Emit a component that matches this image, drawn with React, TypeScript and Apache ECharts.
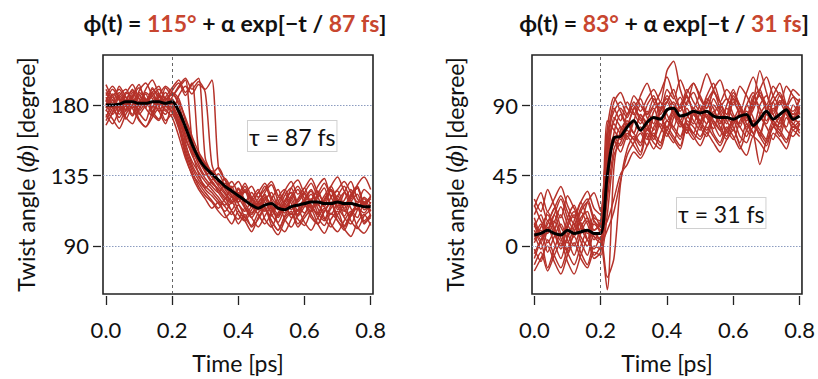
import React, { useEffect, useRef } from "react";
import * as echarts from "echarts";

const TIME = [0, 0.02, 0.04, 0.06, 0.08, 0.1, 0.12, 0.14, 0.16, 0.18, 0.2, 0.22, 0.24, 0.26, 0.28, 0.3, 0.32, 0.34, 0.36, 0.38, 0.4, 0.42, 0.44, 0.46, 0.48, 0.5, 0.52, 0.54, 0.56, 0.58, 0.6, 0.62, 0.64, 0.66, 0.68, 0.7, 0.72, 0.74, 0.76, 0.78, 0.8];

const X_TICKS = [0, 0.2, 0.4, 0.6, 0.8];
const LEFT_Y_TICKS = [90, 135, 180];
const RIGHT_Y_TICKS = [0, 45, 90];
const PUMP_TIME = 0.2;

const LEFT_TITLE = ["ϕ(t) = ", "115°", " + α exp[−t / ", "87 fs", "]"];
const RIGHT_TITLE = ["ϕ(t) = ", "83°", " + α exp[−t / ", "31 fs", "]"];
const LEFT_TAU = "τ = 87 fs";
const RIGHT_TAU = "τ = 31 fs";

// left panel: mean trajectory (black) and individual runs (red)
const LEFT_MEAN = [180, 180, 180.5, 182, 182, 181, 181, 182, 182, 181, 182, 176, 166, 155, 146, 140, 136, 132, 128, 125, 122, 119, 116, 114, 116, 117, 114, 113, 115, 116, 117, 118, 118, 117, 117, 118, 117, 117, 116, 115, 115];
const L01 = [178, 185, 176, 183, 190, 179, 184, 175, 182, 188, 180, 168, 150, 138, 128, 122, 118, 112, 108, 112, 104, 110, 102, 107, 113, 106, 100, 108, 112, 104, 110, 116, 108, 103, 111, 106, 100, 109, 114, 105, 108];
const L02 = [185, 178, 188, 181, 174, 186, 180, 191, 183, 176, 184, 175, 160, 148, 140, 133, 128, 124, 130, 122, 118, 125, 116, 120, 128, 119, 113, 122, 127, 118, 124, 130, 121, 115, 126, 120, 114, 123, 128, 117, 121];
const L03 = [182, 190, 184, 177, 186, 193, 181, 188, 179, 185, 191, 196, 188, 194, 150, 138, 131, 126, 120, 128, 117, 112, 120, 126, 114, 109, 118, 124, 113, 120, 127, 116, 110, 119, 125, 113, 119, 126, 115, 111, 118];
const L04 = [172, 180, 169, 177, 184, 175, 170, 182, 176, 168, 179, 172, 162, 152, 142, 135, 138, 130, 124, 119, 126, 117, 111, 118, 122, 114, 108, 116, 121, 112, 118, 123, 114, 107, 116, 122, 113, 109, 117, 120, 112];
const L05 = [188, 181, 192, 185, 178, 189, 194, 186, 180, 191, 186, 192, 197, 190, 195, 188, 142, 132, 126, 121, 127, 119, 115, 124, 118, 112, 121, 126, 117, 110, 119, 125, 116, 122, 128, 118, 112, 121, 127, 116, 120];
const L06 = [176, 183, 179, 171, 180, 187, 178, 173, 185, 180, 175, 165, 148, 135, 126, 120, 114, 118, 110, 104, 112, 106, 99, 108, 114, 103, 97, 106, 111, 102, 108, 113, 104, 98, 107, 112, 101, 96, 105, 110, 103];
const L07 = [183, 176, 186, 190, 182, 177, 188, 184, 176, 183, 188, 184, 170, 158, 146, 140, 134, 129, 133, 126, 121, 128, 119, 124, 130, 121, 116, 125, 131, 123, 127, 133, 124, 118, 128, 134, 125, 120, 129, 134, 126];
const L08 = [180, 186, 174, 182, 189, 184, 178, 190, 186, 180, 185, 191, 196, 158, 145, 137, 130, 126, 121, 117, 124, 115, 110, 117, 123, 113, 109, 118, 124, 116, 111, 119, 125, 115, 110, 118, 124, 114, 108, 117, 112];
const L09 = [167, 175, 181, 172, 168, 178, 183, 174, 170, 179, 176, 170, 158, 150, 144, 138, 132, 136, 128, 122, 118, 125, 120, 113, 119, 124, 115, 111, 120, 126, 117, 112, 121, 127, 116, 122, 128, 119, 113, 121, 117];
const L10 = [190, 183, 178, 187, 193, 184, 179, 188, 192, 183, 187, 180, 166, 150, 136, 126, 122, 117, 112, 118, 110, 106, 113, 118, 107, 102, 111, 117, 108, 113, 119, 110, 104, 112, 118, 109, 103, 111, 116, 106, 110];
const L11 = [179, 187, 183, 176, 185, 191, 183, 178, 187, 181, 176, 186, 192, 187, 193, 190, 196, 140, 132, 124, 120, 126, 118, 113, 121, 116, 110, 119, 124, 115, 120, 126, 117, 112, 121, 125, 116, 122, 127, 118, 121];
const L12 = [184, 179, 172, 180, 186, 176, 182, 188, 179, 174, 182, 174, 156, 142, 134, 128, 124, 119, 115, 110, 116, 108, 103, 111, 115, 106, 100, 109, 115, 107, 103, 112, 117, 108, 102, 110, 116, 106, 101, 109, 113];
const L13 = [174, 168, 177, 185, 178, 170, 166, 175, 183, 177, 172, 160, 146, 136, 130, 124, 119, 114, 120, 112, 107, 114, 108, 102, 109, 115, 104, 99, 107, 113, 105, 100, 108, 114, 104, 99, 106, 112, 102, 98, 105];
const L14 = [186, 192, 185, 179, 188, 182, 190, 196, 187, 181, 189, 194, 186, 193, 197, 146, 136, 128, 123, 118, 122, 130, 121, 115, 124, 129, 119, 113, 122, 128, 120, 114, 123, 130, 121, 115, 124, 131, 120, 116, 122];
const L15 = [170, 178, 186, 180, 173, 181, 187, 176, 171, 180, 178, 166, 152, 140, 132, 127, 131, 124, 118, 113, 120, 114, 108, 115, 120, 110, 105, 114, 119, 109, 115, 120, 111, 106, 114, 119, 108, 104, 113, 118, 109];
const L16 = [181, 174, 180, 188, 184, 174, 180, 186, 190, 184, 181, 170, 164, 156, 148, 142, 136, 140, 132, 127, 131, 124, 128, 121, 126, 131, 122, 118, 127, 132, 123, 119, 128, 133, 122, 126, 131, 124, 118, 126, 122];
const L17 = [193, 186, 190, 182, 178, 188, 184, 179, 186, 192, 188, 182, 172, 160, 150, 143, 137, 132, 127, 131, 123, 118, 124, 117, 112, 120, 126, 115, 110, 119, 124, 114, 111, 120, 126, 115, 109, 118, 123, 113, 116];
const L18 = [177, 171, 165, 174, 180, 171, 166, 172, 178, 170, 174, 168, 154, 144, 137, 131, 126, 121, 116, 121, 113, 108, 115, 110, 104, 111, 117, 107, 102, 110, 116, 108, 104, 112, 117, 106, 102, 110, 116, 104, 109];

// right panel
const RIGHT_MEAN = [7, 8, 10, 8, 7, 10, 8, 9, 10, 8, 8, 45, 69, 70, 76, 80, 74, 79, 82, 81, 87, 88, 83, 84, 86, 85, 86, 83, 82, 82, 81, 83, 84, 77, 81, 86, 81, 84, 87, 81, 83];
const R01 = [12, 20, 8, 15, 25, 14, 6, 18, 22, 10, 14, 60, 88, 80, 92, 85, 78, 90, 96, 84, 92, 100, 88, 95, 86, 78, 92, 99, 88, 82, 94, 90, 80, 87, 98, 90, 84, 93, 88, 80, 89];
const R02 = [-5, 4, 12, 2, -8, 6, 14, 3, -6, 8, 4, 40, 72, 84, 76, 88, 82, 74, 86, 92, 80, 88, 95, 84, 78, 90, 82, 75, 88, 94, 84, 78, 90, 82, 70, 86, 92, 80, 88, 95, 84];
const R03 = [25, 34, 22, 30, 38, 26, 18, 28, 35, 24, 20, 75, 95, 86, 78, 88, 94, 84, 90, 98, 108, 96, 88, 100, 92, 86, 96, 104, 92, 84, 98, 90, 82, 94, 100, 88, 96, 104, 90, 86, 94];
const R04 = [8, -2, 10, 16, 5, -4, 9, 15, 4, -2, 6, -20, -8, 40, 62, 70, 64, 75, 68, 78, 72, 66, 80, 74, 68, 78, 84, 72, 66, 76, 70, 62, 74, 80, 70, 64, 76, 72, 66, 78, 72];
const R05 = [15, 6, 22, 12, 3, 18, 26, 14, 8, 20, 12, 55, 70, 64, 72, 68, 60, 74, 70, 64, 80, 76, 70, 82, 86, 76, 70, 80, 74, 68, 78, 84, 74, 70, 82, 76, 68, 80, 86, 74, 78];
const R06 = [2, 10, -4, 6, 14, 4, -6, 8, 16, 6, 2, 10, 22, 42, 58, 66, 72, 64, 76, 82, 74, 84, 78, 72, 86, 80, 74, 84, 90, 80, 74, 86, 78, 72, 84, 90, 80, 76, 88, 82, 78];
const R07 = [18, 8, 14, 24, 12, 6, 16, 28, 18, 10, 16, 65, 80, 88, 82, 92, 86, 94, 100, 92, 112, 118, 100, 90, 104, 96, 88, 98, 92, 84, 96, 88, 80, 92, 112, 98, 86, 96, 90, 84, 94];
const R08 = [-12, -4, -16, -6, 2, -10, -18, -6, 4, -8, -4, 35, 68, 60, 70, 64, 58, 72, 66, 62, 74, 68, 62, 76, 70, 64, 72, 66, 60, 68, 74, 64, 58, 70, 66, 60, 72, 68, 62, 74, 70];
const R09 = [30, 22, 36, 26, 18, 32, 24, 16, 28, 34, 22, 70, 86, 92, 84, 96, 90, 84, 94, 88, 96, 90, 86, 98, 104, 94, 88, 100, 106, 94, 90, 102, 96, 88, 100, 108, 96, 90, 102, 96, 92];
const R10 = [6, 14, 2, 10, 20, 8, 0, 12, 18, 6, 4, -28, 50, 74, 80, 72, 84, 78, 70, 82, 76, 86, 80, 72, 84, 78, 72, 86, 80, 74, 68, 80, 86, 78, 72, 84, 78, 70, 82, 76, 80];
const R11 = [10, 2, 16, 8, -2, 12, 20, 6, 0, 14, 10, 80, 74, 68, 78, 72, 84, 76, 70, 86, 92, 84, 76, 88, 80, 74, 86, 78, 70, 82, 76, 66, 78, 72, 52, 68, 80, 74, 86, 78, 74];
const R12 = [-8, 2, -14, -2, 8, -4, -12, 0, 10, -6, 0, 52, 66, 76, 70, 80, 74, 68, 82, 76, 86, 92, 80, 74, 88, 84, 78, 90, 84, 72, 80, 88, 82, 76, 90, 96, 84, 78, 90, 84, 86];
const R13 = [20, 28, 16, 24, 32, 22, 14, 24, 30, 18, 16, 58, 78, 72, 84, 90, 80, 86, 78, 92, 84, 76, 90, 96, 84, 80, 94, 88, 78, 90, 100, 88, 82, 96, 88, 80, 92, 98, 86, 82, 90];
const R14 = [-2, -10, 4, -6, -14, -2, 6, -4, -12, 0, -2, 30, 62, 70, 78, 72, 66, 80, 88, 76, 70, 82, 90, 78, 72, 86, 92, 80, 74, 88, 82, 76, 90, 98, 84, 78, 88, 82, 76, 90, 84];
const R15 = [4, 12, 20, 10, 0, 14, 22, 12, 4, 16, 8, 48, 82, 76, 68, 80, 90, 82, 74, 88, 94, 86, 80, 92, 98, 88, 82, 94, 86, 78, 92, 84, 76, 90, 96, 86, 80, 92, 84, 78, 88];
const R16 = [14, 4, 10, 20, 8, 2, 12, 22, 14, 4, 10, 16, 30, 46, 52, 60, 56, 64, 72, 66, 76, 70, 64, 78, 72, 68, 76, 70, 64, 74, 80, 70, 66, 76, 72, 66, 78, 74, 68, 76, 74];
const R17 = [26, 16, 10, 20, 30, 18, 10, 22, 28, 16, 12, 68, 92, 98, 88, 84, 96, 104, 92, 86, 100, 94, 106, 96, 88, 98, 110, 100, 92, 100, 94, 86, 98, 108, 96, 90, 102, 96, 90, 100, 96];
const R18 = [-16, -8, 0, -10, -18, -6, 2, -8, -14, -4, -6, 20, 58, 66, 74, 68, 76, 70, 62, 72, 80, 74, 68, 80, 76, 70, 78, 84, 76, 70, 82, 76, 70, 80, 74, 68, 76, 82, 74, 70, 78];

const LEFT_RUNS = [L01, L02, L03, L04, L05, L06, L07, L08, L09, L10, L11, L12, L13, L14, L15, L16, L17, L18];
const RIGHT_RUNS = [R01, R02, R03, R04, R05, R06, R07, R08, R09, R10, R11, R12, R13, R14, R15, R16, R17, R18];

const FONT = "Lato, 'Open Sans', sans-serif";
const RED_LINE = "#b5322a";
const RED_TEXT = "#c8462f";
const INK = "#111111";

function pairs(vals: number[]) {
  return TIME.map((t, i) => [t, vals[i]]);
}

function xAxisCfg(gi: number, min: number, max: number) {
  return {
    type: "value",
    gridIndex: gi,
    min,
    max,
    offset: 2,
    axisLine: { show: false, onZero: false },
    axisTick: { show: true, length: 9, customValues: X_TICKS, lineStyle: { color: "#222", width: 1.3 } },
    axisLabel: {
      customValues: X_TICKS,
      formatter: (v: number) => v.toFixed(1),
      fontSize: 22,
      fontFamily: FONT,
      color: INK,
      margin: 22,
    },
    splitLine: { show: false },
    name: "Time [ps]",
    nameLocation: "middle",
    nameGap: 55,
    nameTextStyle: { fontSize: 23, fontFamily: FONT, color: INK },
  };
}

function yAxisCfg(gi: number, min: number, max: number, ticks: number[]) {
  return {
    type: "value",
    gridIndex: gi,
    min,
    max,
    offset: 2,
    axisLine: { show: false, onZero: false },
    axisTick: { show: true, length: 8, customValues: ticks, lineStyle: { color: "#222", width: 1.3 } },
    axisLabel: { customValues: ticks, fontSize: 22, fontFamily: FONT, color: INK, margin: 12 },
    splitLine: { show: false },
    name: "{n|Twist angle (}{i|ϕ}{n|) [degree]}",
    nameLocation: "middle",
    nameGap: 64,
    nameRotate: 90,
    nameTextStyle: {
      rich: {
        n: { fontSize: 23, fontFamily: FONT, color: INK },
        i: { fontSize: 23, fontFamily: "'DejaVu Serif', serif", fontStyle: "italic", color: INK },
      },
    },
  };
}

function guideSeries(gi: number, ticks: number[]) {
  return {
    type: "line",
    xAxisIndex: gi,
    yAxisIndex: gi,
    data: [],
    z: 1,
    silent: true,
    markLine: {
      silent: true,
      symbol: "none",
      animation: false,
      label: { show: false },
      data: [
        ...ticks.map((v) => ({ yAxis: v, lineStyle: { type: [1.5, 1.5], color: "#8c9cc0", width: 1.1 } })),
        { xAxis: PUMP_TIME, lineStyle: { type: [3, 3], color: "#555", width: 0.9 } },
      ],
    },
  };
}

function runSeries(gi: number, runs: number[][]) {
  return runs.map((r) => ({
    type: "line",
    xAxisIndex: gi,
    yAxisIndex: gi,
    data: pairs(r),
    showSymbol: false,
    symbol: "none",
    smooth: 0.25,
    z: 2,
    silent: true,
    lineStyle: { color: RED_LINE, width: 1.5 },
  }));
}

function meanSeries(gi: number, vals: number[]) {
  return {
    type: "line",
    xAxisIndex: gi,
    yAxisIndex: gi,
    data: pairs(vals),
    showSymbol: false,
    symbol: "none",
    smooth: 0.3,
    z: 3,
    silent: true,
    lineStyle: { color: "#000", width: 3 },
  };
}

function titleText(x: number, parts: string[]) {
  const styles = ["b", "r", "b", "r", "b"];
  return {
    type: "text",
    x,
    y: 11,
    style: {
      text: parts.map((p, i) => `{${styles[i]}|${p}}`).join(""),
      align: "center",
      rich: {
        b: { fontSize: 23, fontWeight: "bold", fontFamily: FONT, fill: INK, color: INK },
        r: { fontSize: 23, fontWeight: "bold", fontFamily: FONT, fill: RED_TEXT, color: RED_TEXT },
      },
    },
  };
}

function tauBox(x: number, y: number, text: string) {
  return {
    type: "text",
    x,
    y,
    z: 10,
    style: {
      text,
      fontSize: 23,
      fontFamily: FONT,
      fill: INK,
      backgroundColor: "#ffffff",
      borderColor: "#d0d0d0",
      borderWidth: 1,
      padding: [4, 1, 3, 1],
    },
  };
}

export default function App() {
  const ref = useRef<HTMLDivElement>(null);
  useEffect(() => {
    if (!ref.current) return;
    const chart = echarts.init(ref.current, null, { renderer: "svg" });
    const border = { show: true, borderColor: "#222", borderWidth: 1.6, backgroundColor: "transparent" };
    chart.setOption({
      animation: false,
      grid: [
        { left: 103, top: 55, width: 270, height: 242, ...border },
        { left: 532, top: 55, width: 270, height: 242, ...border },
      ],
      xAxis: [xAxisCfg(0, -0.009, 0.807), xAxisCfg(1, -0.007, 0.807)],
      yAxis: [yAxisCfg(0, 59.2, 211.9, LEFT_Y_TICKS), yAxisCfg(1, -30.7, 122, RIGHT_Y_TICKS)],
      graphic: [
        titleText(235, LEFT_TITLE),
        titleText(664, RIGHT_TITLE),
        tauBox(248, 121, LEFT_TAU),
        tauBox(677, 198, RIGHT_TAU),
      ],
      series: [
        guideSeries(0, LEFT_Y_TICKS),
        guideSeries(1, RIGHT_Y_TICKS),
        ...runSeries(0, LEFT_RUNS),
        ...runSeries(1, RIGHT_RUNS),
        meanSeries(0, LEFT_MEAN),
        meanSeries(1, RIGHT_MEAN),
      ],
    });
    return () => chart.dispose();
  }, []);
  return <div ref={ref} style={{ position: "absolute", left: 0, top: 0, width: 818, height: 379 }} />;
}
